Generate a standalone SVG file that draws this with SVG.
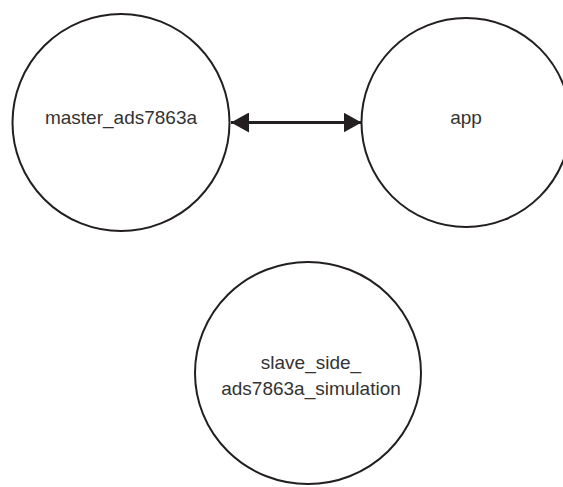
<svg xmlns="http://www.w3.org/2000/svg" width="563" height="487" viewBox="0 0 563 487">
  <style>
    .node { fill: #ffffff; stroke: #231f20; stroke-width: 2; }
    .label { font-family: "Liberation Sans", Arial, sans-serif; font-size: 19px; fill: #333333; text-anchor: middle; }
    .edge { stroke: #231f20; stroke-width: 3; fill: none; }
  </style>
  <defs>
    <marker id="head" markerWidth="18" markerHeight="20" refX="18" refY="10" orient="auto-start-reverse" markerUnits="userSpaceOnUse">
      <path d="M0,0 L18,10 L0,20 Z" fill="#231f20"/>
    </marker>
  </defs>
  <rect width="563" height="487" fill="#ffffff"/>

  <g id="master_ads7863a">
    <circle class="node" cx="121" cy="122.5" r="108.5"/>
    <text class="label" x="121" y="124">master_ads7863a</text>
  </g>

  <g id="app">
    <circle class="node" cx="466" cy="122.5" r="104.5"/>
    <text class="label" x="466" y="124">app</text>
  </g>

  <g id="slave_side_ads7863a_simulation">
    <ellipse class="node" cx="308" cy="373" rx="113" ry="111"/>
    <text class="label" x="311" y="369">slave_side_</text>
    <text class="label" x="311" y="395">ads7863a_simulation</text>
  </g>

  <g id="connectors">
    <line class="edge" x1="231" y1="122.5" x2="361.5" y2="122.5" marker-start="url(#head)" marker-end="url(#head)"/>
  </g>
</svg>
